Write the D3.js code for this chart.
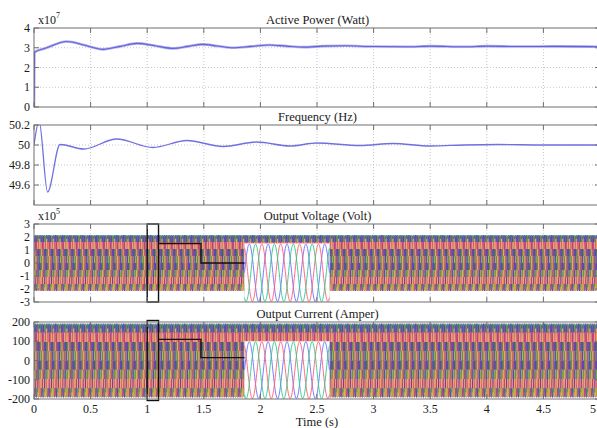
<!DOCTYPE html>
<html>
<head>
<meta charset="utf-8">
<script src="https://cdn.jsdelivr.net/npm/d3@7"></script>
<style>
  body { margin: 0; background: #fff; }
  text { font-family: "Liberation Serif", "Times New Roman", serif; fill: #1a1a1a; }
</style>
</head>
<body>
<div id="container"></div>
<script>
// time axis
const timeTicks = [0, 0.5, 1, 1.5, 2, 2.5, 3, 3.5, 4, 4.5, 5];

// active power (x1e7 W)
const powerTime  = [0, 0.004, 0.1, 0.29, 0.45, 0.61, 0.76, 0.91, 1.07, 1.23, 1.36, 1.49, 1.62, 1.76, 1.92, 2.08, 2.23, 2.38, 2.55, 2.75, 3.0, 3.3, 3.5, 3.8, 4.0, 4.3, 4.6, 5.0];
const powerValue = [0, 2.77, 2.97, 3.32, 3.13, 2.92, 3.07, 3.22, 3.10, 2.97, 3.07, 3.17, 3.09, 3.00, 3.07, 3.14, 3.08, 3.03, 3.08, 3.10, 3.06, 3.05, 3.08, 3.05, 3.08, 3.06, 3.07, 3.05];
const powerTicks = [0, 1, 2, 3, 4];

// frequency (Hz)
const freqTime  = [0, 0.045, 0.12, 0.23, 0.44, 0.73, 1.05, 1.35, 1.67, 1.97, 2.26, 2.5, 2.88, 3.17, 3.5, 3.8, 4.1, 4.5, 5.0];
const freqValue = [50.0, 50.24, 49.53, 50.005, 49.96, 50.06, 49.975, 50.045, 49.985, 50.03, 49.99, 50.02, 49.995, 50.015, 49.99, 50.0, 50.005, 50.0, 50.0];
const freqTicks = [49.6, 49.8, 50, 50.2];

// output voltage (x1e5 V) and current (A): 50 Hz multi-phase waveforms
const voltTicks = [-3, -2, -1, 0, 1, 2, 3];
const currTicks = [-200, -100, 0, 100, 200];
const waveFrequency = 50;
const voltPeak = 2.15;
const currPeak = 192;
const bandPhases = [0, 120, 240, 30, 150, 270];
const bandColors = ["#7d3a9c", "#46a23a", "#eea46c", "#b4ae3a", "#c2407a", "#3f55c0"];

// zoomed inset
const insetPhases = [0, 120, 240];
const insetColors = ["#6c6cff", "#ff5e70", "#2ec88c"];
const insetCycles = 4.5;
const zoomWindow = [1.0, 1.1];
const insetTime = [1.86, 2.61];
const connectorTime = 1.475;
const voltInset = { range: [-3, 1.5], levels: [1.5, 0] };
const currInset = { range: [-200, 100], levels: [110, 15] };

const width = 597, height = 428;
const margin = { left: 34, right: -3 };

const x = d3.scaleLinear().domain([0, 5]).range([margin.left, width - margin.right]);

const panels = [
  { id: "p", title: "Active Power (Watt)", top: 28, bottom: 107, domain: [0, 4], ticks: powerTicks, exp: "7" },
  { id: "f", title: "Frequency (Hz)", top: 125, bottom: 205, domain: [49.4, 50.2], ticks: freqTicks },
  { id: "v", title: "Output Voltage (Volt)", top: 224, bottom: 302, domain: [-3, 3], ticks: voltTicks, exp: "5" },
  { id: "c", title: "Output Current (Amper)", top: 322, bottom: 399, domain: [-200, 200], ticks: currTicks }
];
panels.forEach(p => p.y = d3.scaleLinear().domain(p.domain).range([p.bottom, p.top]));

const svg = d3.select("#container").append("svg")
  .attr("width", width)
  .attr("height", height);

const defs = svg.append("defs");
panels.forEach(p => {
  defs.append("clipPath").attr("id", "clip-" + p.id)
    .append("rect")
    .attr("x", x(0)).attr("y", p.top)
    .attr("width", x(5) - x(0)).attr("height", p.bottom - p.top);
});

function grid(g, p) {
  g.attr("stroke", "#b8b8b8").attr("stroke-width", 0.8).attr("stroke-dasharray", "1,2");
  g.selectAll(".gx").data(timeTicks.slice(1, -1)).join("line")
    .attr("x1", d => x(d)).attr("x2", d => x(d))
    .attr("y1", p.top).attr("y2", p.bottom);
  g.selectAll(".gy").data(p.ticks.filter(d => d !== p.domain[0] && d !== p.domain[1])).join("line")
    .attr("class", "gy")
    .attr("y1", d => p.y(d)).attr("y2", d => p.y(d))
    .attr("x1", x(0)).attr("x2", x(5));
}

const smooth = (ys) => d3.line()
  .x(d => x(d[0]))
  .y(d => ys(d[1]))
  .curve(d3.curveMonotoneX);

// the dense 50 Hz band: split in horizontal strips and half-cycle chunks, and
// let the drawing order of the phases rotate so the colours form a mosaic
const strips = 8;
const chunk = 0.5 / waveFrequency;
const step = 0.1 / waveFrequency;
const nChunks = Math.round(5 / chunk);

function band(plot, p, peak) {
  const lin = d3.line().x(d => x(d[0])).y(d => p.y(d[1]));
  const sPx = (p.y(-peak) - p.y(peak)) / strips;
  const n = bandPhases.length;
  for (let s = 0; s < strips; s++) {
    const cid = `strip-${p.id}-${s}`;
    defs.append("clipPath").attr("id", cid).append("rect")
      .attr("x", x(0)).attr("width", x(5) - x(0))
      .attr("y", p.y(peak) + s * sPx - (s === 0 ? 4 : 0))
      .attr("height", sPx + (s === 0 || s === strips - 1 ? 4 : 0));
    const sg = plot.append("g").attr("clip-path", `url(#${cid})`);
    const shift = Math.round(Math.abs(s - (strips - 1) / 2));
    const orangeRow = s === 1 || s === strips - 2;
    for (let layer = 0; layer < 3; layer++) {
      const segs = bandPhases.map(() => []);
      for (let c = 0; c < nChunks; c++) {
        let top = (c + shift) % n;
        if (orangeRow && c % 2 === 0) top = 2;
        const k = (top + (2 - layer) * 2) % n;
        const pts = [];
        for (let t = c * chunk; t <= (c + 1) * chunk + 1e-9; t += step) {
          pts.push([t, peak * Math.sin(2 * Math.PI * waveFrequency * t + bandPhases[k] * Math.PI / 180)]);
        }
        segs[k].push(lin(pts));
      }
      segs.forEach((d, k) => {
        if (!d.length) return;
        sg.append("path").attr("fill", "none")
          .attr("stroke", bandColors[k]).attr("stroke-width", layer === 2 ? 1.1 : 0.9)
          .attr("d", d.join(""));
      });
    }
  }
}

panels.forEach((p, i) => {
  const g = svg.append("g");
  g.append("g").call(grid, p);

  const plot = g.append("g").attr("clip-path", `url(#clip-${p.id})`);

  if (p.id === "p") {
    const data = powerTime.map((t, k) => [t, powerValue[k]]);
    plot.append("path").attr("fill", "none").attr("stroke", "#b0b0f0").attr("stroke-width", 2.6)
      .attr("d", smooth(p.y)(data));
    plot.append("path").attr("fill", "none").attr("stroke", "#6464d6").attr("stroke-width", 1.1)
      .attr("d", smooth(p.y)(data));
  }
  if (p.id === "f") {
    const data = freqTime.map((t, k) => [t, freqValue[k]]);
    plot.append("path").attr("fill", "none").attr("stroke", "#7070e2").attr("stroke-width", 1.3)
      .attr("d", smooth(p.y)(data));
  }
  if (p.id === "v" || p.id === "c") {
    const peak = p.id === "v" ? voltPeak : currPeak;
    const ins = p.id === "v" ? voltInset : currInset;
    band(plot, p, peak);

    // inset: white box with a few cycles drawn wide
    const ix = d3.scaleLinear().domain([0, insetCycles]).range([x(insetTime[0]), x(insetTime[1])]);
    const iy = d3.scaleLinear().domain([-1, 1]).range([p.y(ins.range[0]) - 0.5, p.y(ins.range[1]) + 0.5]);
    const inset = plot.append("g");
    inset.append("rect")
      .attr("x", ix(0)).attr("y", p.y(ins.range[1]))
      .attr("width", ix(insetCycles) - ix(0)).attr("height", p.y(ins.range[0]) - p.y(ins.range[1]))
      .attr("fill", "#fff").attr("stroke", "#ddd").attr("stroke-width", 0.6);
    inset.append("g").attr("stroke", "#c4c4c4").attr("stroke-width", 0.7).attr("stroke-dasharray", "1,2")
      .selectAll("line").data(p.ticks.filter(d => d > ins.range[0] && d < ins.range[1])).join("line")
      .attr("x1", ix(0)).attr("x2", ix(insetCycles))
      .attr("y1", d => p.y(d)).attr("y2", d => p.y(d));
    const cyc = d3.line().x(d => ix(d[0])).y(d => iy(d[1])).curve(d3.curveBasis);
    insetPhases.forEach((ph, k) => {
      const pts = d3.range(0, insetCycles + 0.001, 0.02)
        .map(c => [c, Math.sin(2 * Math.PI * c + ph * Math.PI / 180)]);
      inset.append("path").attr("fill", "none")
        .attr("stroke", insetColors[k]).attr("stroke-width", 0.9)
        .attr("d", cyc(pts));
    });

    // zoom marker and connector
    const ann = g.append("g").attr("fill", "none").attr("stroke", "#111").attr("stroke-width", 1.4);
    const pad = p.id === "c" ? 1.5 : 0;
    ann.append("rect")
      .attr("x", x(zoomWindow[0])).attr("y", p.top - pad)
      .attr("width", x(zoomWindow[1]) - x(zoomWindow[0]))
      .attr("height", p.bottom - p.top + 2 * pad);
    ann.append("path").attr("d",
      `M${x(zoomWindow[1])},${p.y(ins.levels[0])}H${x(connectorTime)}V${p.y(ins.levels[1])}H${x(insetTime[0])}`);
  }

  // frame and inward ticks
  const fr = g.append("g").attr("stroke", "#6e6e6e").attr("stroke-width", 1);
  fr.append("rect").attr("x", x(0)).attr("y", p.top)
    .attr("width", x(5) - x(0)).attr("height", p.bottom - p.top).attr("fill", "none");
  fr.selectAll(".tx").data(timeTicks).join("path").attr("class", "tx")
    .attr("d", d => `M${x(d)},${p.bottom}v-5M${x(d)},${p.top}v5`);
  fr.selectAll(".ty").data(p.ticks).join("path").attr("class", "ty")
    .attr("d", d => `M${x(0)},${p.y(d)}h5M${x(5)},${p.y(d)}h-5`);

  g.selectAll(".yl").data(p.ticks).join("text").attr("class", "yl")
    .attr("x", x(0) - 4).attr("y", d => p.y(d)).attr("dy", "0.35em")
    .attr("text-anchor", "end").attr("font-size", 12)
    .text(d => String(d));

  g.append("text").attr("x", (x(0) + 597) / 2 + 2).attr("y", p.top - 4)
    .attr("text-anchor", "middle").attr("font-size", 12.5).text(p.title);

  if (p.exp) {
    const t = g.append("text").attr("x", x(0) + 4).attr("y", p.top - 4).attr("font-size", 12);
    t.append("tspan").text("x10");
    t.append("tspan").attr("dy", -6).attr("font-size", 8).text(p.exp);
  }

  if (i === panels.length - 1) {
    g.selectAll(".xl").data(timeTicks).join("text").attr("class", "xl")
      .attr("x", d => d === 5 ? width - 1 : x(d)).attr("y", p.bottom + 14)
      .attr("text-anchor", d => d === 5 ? "end" : "middle").attr("font-size", 12)
      .text(d => String(d));
    g.append("text").attr("x", x(2.5)).attr("y", p.bottom + 27)
      .attr("text-anchor", "middle").attr("font-size", 12.5).text("Time (s)");
  }
});
</script>
</body>
</html>
